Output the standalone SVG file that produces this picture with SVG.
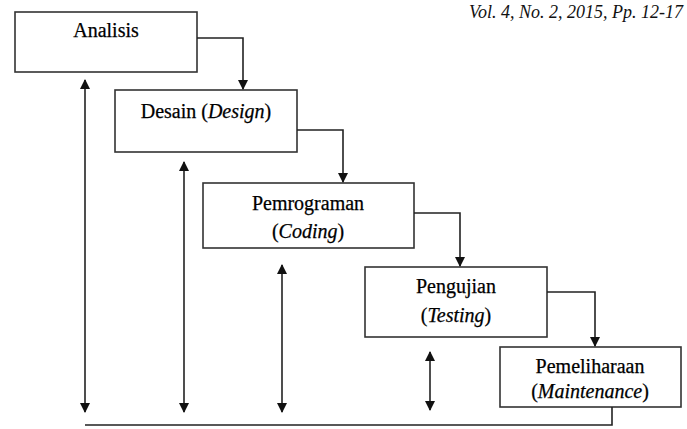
<svg xmlns="http://www.w3.org/2000/svg" width="687" height="429" viewBox="0 0 687 429">
<defs>
<marker id="ah" markerWidth="10" markerHeight="10" refX="9" refY="5" orient="auto-start-reverse" markerUnits="userSpaceOnUse">
<path d="M0,0 L10,5 L0,10 z" fill="#111"/>
</marker>
<style>
.box{fill:#fff;stroke:#333;stroke-width:1.6}
.lbl{font-family:"Liberation Serif","Times New Roman",serif;font-size:20px;fill:#000;stroke:#000;stroke-width:0.25;text-anchor:middle}
.con{fill:none;stroke:#222;stroke-width:1.6}
.hdr{font-family:"Liberation Serif","Times New Roman",serif;font-size:18px;font-style:italic;fill:#111;text-anchor:end}
</style>
</defs>
<rect width="687" height="429" fill="#fff"/>
<text class="hdr" x="683" y="18">Vol. 4, No. 2, 2015, Pp. 12-17</text>
<g id="analisis">
<rect class="box" x="15" y="12" width="182" height="60"/>
<text class="lbl" x="106" y="37">Analisis</text>
</g>
<g id="desain">
<rect class="box" x="115" y="90" width="182" height="62"/>
<text class="lbl" x="206" y="118">Desain (<tspan font-style="italic">Design</tspan>)</text>
</g>
<g id="pemrograman">
<rect class="box" x="203" y="183" width="211" height="65"/>
<text class="lbl" x="308" y="210">Pemrograman</text>
<text class="lbl" x="308" y="238">(<tspan font-style="italic">Coding</tspan>)</text>
</g>
<g id="pengujian">
<rect class="box" x="365" y="267" width="182" height="70"/>
<text class="lbl" x="456" y="293">Pengujian</text>
<text class="lbl" x="456" y="322">(<tspan font-style="italic">Testing</tspan>)</text>
</g>
<g id="pemeliharaan">
<rect class="box" x="500" y="347" width="181" height="60"/>
<text class="lbl" x="590" y="373">Pemeliharaan</text>
<text class="lbl" x="590" y="398">(<tspan font-style="italic">Maintenance</tspan>)</text>
</g>
<g id="connectors">
<path class="con" d="M197,38 H243 V89" marker-end="url(#ah)"/>
<path class="con" d="M297,130 H343 V182" marker-end="url(#ah)"/>
<path class="con" d="M414,213 H460 V266" marker-end="url(#ah)"/>
<path class="con" d="M547,292 H595 V346" marker-end="url(#ah)"/>
<path class="con" d="M612,407 V425 H85"/>
<path class="con" d="M85,80 V412" marker-start="url(#ah)" marker-end="url(#ah)"/>
<path class="con" d="M184,162 V412" marker-start="url(#ah)" marker-end="url(#ah)"/>
<path class="con" d="M282,265 V412" marker-start="url(#ah)" marker-end="url(#ah)"/>
<path class="con" d="M430,352 V410" marker-start="url(#ah)" marker-end="url(#ah)"/>
</g>
</svg>
